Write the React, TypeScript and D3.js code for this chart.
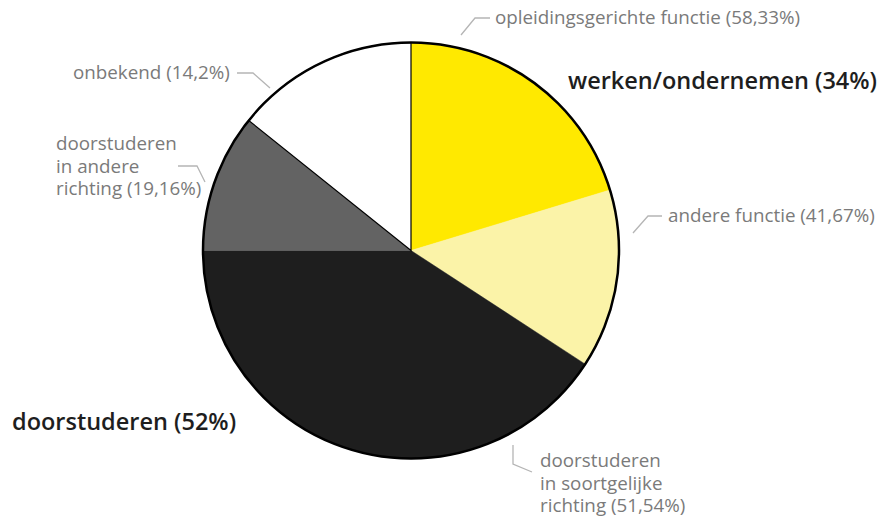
import React, { useEffect, useRef } from 'react';
import * as d3 from 'd3';

// slice values as share of the whole
const sliceNames = [
  'opleidingsgerichte functie',
  'andere functie',
  'doorstuderen in soortgelijke richting',
  'doorstuderen in andere richting',
  'onbekend',
];
const sliceValues = [20.3, 13.9, 40.8, 10.75, 14.25];
const sliceColors = ['#ffe900', '#fbf3a8', '#1e1e1e', '#636363', '#ffffff'];

// label texts
const sliceLabels = [
  ['opleidingsgerichte functie (58,33%)'],
  ['andere functie (41,67%)'],
  ['doorstuderen', 'in soortgelijke', 'richting (51,54%)'],
  ['doorstuderen', 'in andere', 'richting (19,16%)'],
  ['onbekend (14,2%)'],
];
const groupLabels = ['werken/ondernemen (34%)', 'doorstuderen (52%)'];

export default function App() {
  const svgRef = useRef(null);

  useEffect(() => {
    const svg = d3.select(svgRef.current);
    svg.selectAll('*').remove();

    const width = 882;
    const height = 519;
    const cx = 411;
    const cy = 250.5;
    const r = 208;
    const font = '"Open Sans", Lato, sans-serif';

    const pie = d3.pie<number>().sort(null).value(d => d);
    const arcs = pie(sliceValues);
    const arc = d3.arc<d3.PieArcDatum<number>>().innerRadius(0).outerRadius(r);

    const g = svg.append('g').attr('transform', `translate(${cx},${cy})`);

    g.selectAll('path.slice')
      .data(arcs)
      .join('path')
      .attr('class', 'slice')
      .attr('d', arc)
      .attr('fill', (d, i) => sliceColors[i])
      .attr('stroke', (d, i) => (i === 4 ? '#000' : sliceColors[i]))
      .attr('stroke-width', (d, i) => (i === 4 ? 1.2 : 0.5));

    // outline
    g.append('circle')
      .attr('r', r)
      .attr('fill', 'none')
      .attr('stroke', '#000')
      .attr('stroke-width', 2.5);

    // label layout (leader line points and text anchor)
    const layout = [
      { line: [[461, 35], [475, 18], [490, 18]], x: 495, y: 24 },
      { line: [[633, 233], [648, 216], [662, 216]], x: 668, y: 222 },
      { line: [[513, 445], [513, 464], [532, 472]], x: 540, y: 467 },
      { line: [[178, 166], [197, 166], [205, 182]], x: 56, y: 150 },
      { line: [[237, 73], [253, 73], [270, 88]], x: 73, y: 79 },
    ];

    svg.append('g')
      .selectAll('path')
      .data(layout)
      .join('path')
      .attr('d', d => d3.line()(d.line as [number, number][]))
      .attr('fill', 'none')
      .attr('stroke', '#b5b5b5')
      .attr('stroke-width', 1.3);

    const lbl = svg.append('g')
      .selectAll('text')
      .data(layout)
      .join('text')
      .attr('x', d => d.x)
      .attr('y', d => d.y)
      .attr('font-family', font)
      .attr('font-size', 18.8)
      .attr('fill', '#7a7a7a');

    lbl.selectAll('tspan')
      .data((d, i) => sliceLabels[i].map(t => ({ t, x: d.x })))
      .join('tspan')
      .attr('x', d => d.x)
      .attr('dy', (d, j) => (j === 0 ? 0 : 22.5))
      .text(d => d.t);

    const groupPos = [
      { x: 568, y: 89 },
      { x: 12, y: 430 },
    ];
    svg.append('g')
      .selectAll('text')
      .data(groupPos)
      .join('text')
      .attr('x', d => d.x)
      .attr('y', d => d.y)
      .attr('font-family', font)
      .attr('font-size', 23.5)
      .attr('font-weight', 600)
      .attr('fill', '#1e1e1e')
      .text((d, i) => groupLabels[i]);

    svg.attr('width', width).attr('height', height);
  }, []);

  return (
    <svg
      ref={svgRef}
      width={882}
      height={519}
      style={{ position: 'absolute', left: 0, top: 0 }}
    />
  );
}
